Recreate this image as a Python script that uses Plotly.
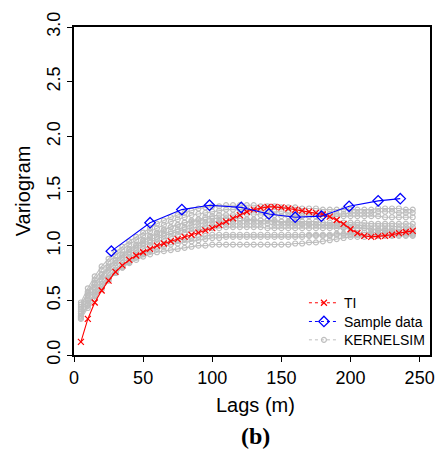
import plotly.graph_objects as go

lags = [5, 10, 15, 20, 25, 30, 35, 40, 45, 50,
        55, 60, 65, 70, 75, 80, 85, 90, 95, 100,
        105, 110, 115, 120, 125, 130, 135, 140, 145, 150,
        155, 160, 165, 170, 175, 180, 185, 190, 195, 200,
        205, 210, 215, 220, 225, 230, 235, 240, 245]

ti = [0.12, 0.33, 0.48, 0.59, 0.68, 0.76, 0.82, 0.87, 0.91, 0.94,
      0.97, 1.00, 1.02, 1.04, 1.06, 1.08, 1.10, 1.12, 1.14, 1.16,
      1.19, 1.22, 1.25, 1.28, 1.31, 1.33, 1.345, 1.355, 1.355, 1.35,
      1.34, 1.33, 1.32, 1.31, 1.30, 1.285, 1.265, 1.235, 1.20, 1.15,
      1.115, 1.09, 1.08, 1.085, 1.09, 1.10, 1.115, 1.125, 1.135]

sample_lags = [27, 55, 78, 98, 121, 141, 160, 179, 199, 220, 236]
sample_vals = [0.95, 1.21, 1.33, 1.37, 1.35, 1.29, 1.26, 1.27, 1.36, 1.41, 1.43]

k1 = [0.48, 0.61, 0.72, 0.81, 0.88, 0.94, 0.99, 1.04, 1.08, 1.12,
      1.16, 1.20, 1.23, 1.26, 1.28, 1.30, 1.32, 1.34, 1.35, 1.36,
      1.36, 1.37, 1.37, 1.37, 1.37, 1.37, 1.36, 1.36, 1.36, 1.35,
      1.35, 1.35, 1.34, 1.34, 1.34, 1.33, 1.33, 1.33, 1.33, 1.33,
      1.33, 1.33, 1.33, 1.34, 1.34, 1.34, 1.34, 1.33, 1.33]
k2 = [0.44, 0.58, 0.69, 0.78, 0.85, 0.91, 0.96, 1.01, 1.05, 1.09,
      1.13, 1.16, 1.19, 1.22, 1.24, 1.26, 1.28, 1.29, 1.30, 1.31,
      1.32, 1.33, 1.33, 1.33, 1.33, 1.33, 1.32, 1.32, 1.31, 1.31,
      1.30, 1.30, 1.30, 1.29, 1.29, 1.29, 1.29, 1.29, 1.29, 1.30,
      1.30, 1.30, 1.30, 1.31, 1.31, 1.31, 1.30, 1.30, 1.30]
k3 = [0.46, 0.57, 0.66, 0.74, 0.81, 0.87, 0.92, 0.97, 1.01, 1.05,
      1.09, 1.12, 1.15, 1.17, 1.19, 1.21, 1.23, 1.24, 1.26, 1.27,
      1.28, 1.28, 1.28, 1.29, 1.29, 1.29, 1.28, 1.28, 1.28, 1.27,
      1.27, 1.27, 1.27, 1.27, 1.27, 1.27, 1.27, 1.27, 1.27, 1.27,
      1.27, 1.27, 1.27, 1.27, 1.26, 1.26, 1.26, 1.26, 1.26]
k4 = [0.40, 0.52, 0.62, 0.71, 0.78, 0.84, 0.89, 0.94, 0.98, 1.02,
      1.05, 1.08, 1.11, 1.13, 1.15, 1.17, 1.19, 1.20, 1.21, 1.22,
      1.22, 1.23, 1.23, 1.23, 1.23, 1.23, 1.23, 1.23, 1.23, 1.22,
      1.22, 1.22, 1.22, 1.22, 1.22, 1.21, 1.21, 1.21, 1.21, 1.21,
      1.21, 1.21, 1.20, 1.20, 1.20, 1.20, 1.20, 1.20, 1.20]
k5 = [0.38, 0.50, 0.60, 0.68, 0.75, 0.81, 0.87, 0.92, 0.96, 1.00,
      1.03, 1.06, 1.09, 1.11, 1.13, 1.15, 1.16, 1.17, 1.18, 1.19,
      1.19, 1.20, 1.20, 1.20, 1.20, 1.20, 1.20, 1.20, 1.19, 1.19,
      1.19, 1.19, 1.19, 1.19, 1.19, 1.19, 1.19, 1.19, 1.19, 1.19,
      1.19, 1.18, 1.18, 1.18, 1.18, 1.18, 1.17, 1.17, 1.17]
k6 = [0.36, 0.47, 0.57, 0.65, 0.72, 0.78, 0.84, 0.89, 0.93, 0.97,
      1.00, 1.03, 1.06, 1.08, 1.10, 1.12, 1.13, 1.14, 1.15, 1.16,
      1.16, 1.17, 1.17, 1.17, 1.17, 1.17, 1.17, 1.16, 1.16, 1.16,
      1.16, 1.16, 1.16, 1.16, 1.16, 1.16, 1.16, 1.16, 1.16, 1.16,
      1.16, 1.16, 1.15, 1.15, 1.15, 1.15, 1.15, 1.14, 1.14]
k7 = [0.35, 0.46, 0.55, 0.63, 0.70, 0.76, 0.81, 0.86, 0.90, 0.93,
      0.96, 0.99, 1.01, 1.03, 1.05, 1.06, 1.07, 1.08, 1.09, 1.10,
      1.10, 1.10, 1.10, 1.10, 1.10, 1.10, 1.10, 1.10, 1.10, 1.10,
      1.10, 1.10, 1.10, 1.10, 1.10, 1.10, 1.10, 1.11, 1.11, 1.11,
      1.11, 1.12, 1.12, 1.12, 1.12, 1.12, 1.12, 1.12, 1.12]
k8 = [0.34, 0.45, 0.54, 0.62, 0.69, 0.75, 0.80, 0.85, 0.89, 0.92,
      0.95, 0.97, 0.99, 1.01, 1.02, 1.03, 1.04, 1.05, 1.06, 1.07,
      1.07, 1.08, 1.08, 1.08, 1.08, 1.08, 1.08, 1.08, 1.08, 1.08,
      1.08, 1.08, 1.08, 1.09, 1.09, 1.09, 1.09, 1.10, 1.10, 1.10,
      1.10, 1.10, 1.10, 1.10, 1.10, 1.10, 1.10, 1.10, 1.10]
k9 = [0.33, 0.43, 0.51, 0.60, 0.68, 0.75, 0.80, 0.84, 0.87, 0.90,
      0.92, 0.94, 0.95, 0.96, 0.97, 0.98, 0.99, 1.00, 1.00, 1.01,
      1.01, 1.01, 1.01, 1.01, 1.01, 1.01, 1.01, 1.01, 1.01, 1.01,
      1.01, 1.02, 1.02, 1.03, 1.03, 1.04, 1.05, 1.06, 1.07, 1.08,
      1.08, 1.08, 1.09, 1.09, 1.09, 1.09, 1.09, 1.09, 1.09]
k10 = [0.42, 0.55, 0.65, 0.73, 0.80, 0.86, 0.91, 0.96, 1.00, 1.04,
       1.08, 1.11, 1.14, 1.17, 1.19, 1.21, 1.22, 1.23, 1.24, 1.25,
       1.25, 1.25, 1.25, 1.25, 1.24, 1.24, 1.23, 1.23, 1.22, 1.22,
       1.21, 1.21, 1.20, 1.20, 1.19, 1.19, 1.18, 1.18, 1.17, 1.17,
       1.16, 1.16, 1.15, 1.14, 1.14, 1.13, 1.12, 1.12, 1.11]
kernelsim = [k1, k2, k3, k4, k5, k6, k7, k8, k9, k10]

y_ticks = [0.0, 0.5, 1.0, 1.5, 2.0, 2.5, 3.0]
x_ticks = [0, 50, 100, 150, 200, 250]

GRAY = "#BEBEBE"
FONT = "Liberation Sans, Arial, sans-serif"

gray_marker = dict(symbol="circle-open", size=5, color=GRAY, line=dict(width=1.2, color=GRAY))
red_marker = dict(symbol="x-thin-open", size=6, color="#FF0000", line=dict(width=1.2, color="#FF0000"))
blue_marker = dict(symbol="diamond-open", size=8, color="#0000FF", line=dict(width=1.3, color="#0000FF"))

fig = go.Figure()

for k in kernelsim:
    fig.add_trace(go.Scatter(
        x=lags, y=k, mode="lines+markers", showlegend=False,
        line=dict(color=GRAY, width=1.1), marker=gray_marker,
    ))

fig.add_trace(go.Scatter(
    x=lags, y=ti, mode="lines+markers", showlegend=False,
    line=dict(color="#FF0000", width=1.1), marker=red_marker,
))
fig.add_trace(go.Scatter(
    x=sample_lags, y=sample_vals, mode="lines+markers", showlegend=False,
    line=dict(color="#0000FF", width=1.1), marker=blue_marker,
))

# legend entries (one legend per entry for exact spacing)
fig.add_trace(go.Scatter(
    x=[None], y=[None], mode="lines+markers", name="TI", legend="legend",
    line=dict(color="#FF0000", width=1, dash="dot"), marker=red_marker,
))
fig.add_trace(go.Scatter(
    x=[None], y=[None], mode="lines+markers", name="Sample data", legend="legend2",
    line=dict(color="#0000FF", width=1, dash="dot"), marker=blue_marker,
))
fig.add_trace(go.Scatter(
    x=[None], y=[None], mode="lines+markers", name="KERNELSIM", legend="legend3",
    line=dict(color=GRAY, width=1, dash="dot"), marker=gray_marker,
))

axis_common = dict(
    showline=True, linecolor="black", linewidth=2, mirror=True,
    ticks="outside", ticklen=5, tickwidth=1, tickcolor="black",
    showgrid=False, zeroline=False,
    tickfont=dict(family=FONT, size=18, color="black"),
)

leg_common = dict(x=0.6459, xanchor="left", yanchor="middle",
                  bgcolor="rgba(0,0,0,0)", font=dict(family=FONT, size=14, color="black"),
                  itemwidth=30, borderwidth=0)

fig.update_layout(
    width=447, height=454,
    margin=dict(l=73.5, r=12, t=19, b=99),
    plot_bgcolor="white", paper_bgcolor="white",
    xaxis=dict(range=[0, 257.5], tickvals=x_ticks, ticktext=[str(v) for v in x_ticks], **axis_common),
    yaxis=dict(range=[0, 3], tickvals=y_ticks, ticktext=["%.1f" % v for v in y_ticks],
               tickangle=-90, **axis_common),
    legend=dict(y=0.158, **leg_common),
    legend2=dict(y=0.101, **leg_common),
    legend3=dict(y=0.045, **leg_common),
    annotations=[
        dict(text="Variogram", xref="paper", yref="paper", x=-0.1425, y=0.5,
             textangle=-90, showarrow=False, xanchor="center", yanchor="middle",
             font=dict(family=FONT, size=20, color="black")),
        dict(text="Lags (m)", xref="paper", yref="paper", x=0.51, y=-0.152,
             showarrow=False, xanchor="center", yanchor="middle",
             font=dict(family=FONT, size=20, color="black")),
        dict(text="<b>(b)</b>", xref="paper", yref="paper", x=0.51, y=-0.247,
             showarrow=False, xanchor="center", yanchor="middle",
             font=dict(family="Liberation Serif, Times New Roman, serif", size=24, color="black")),
    ],
)

fig.write_html("out.html")
